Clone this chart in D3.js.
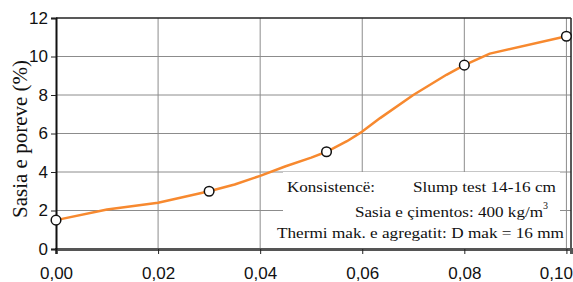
<!DOCTYPE html>
<html>
<head>
<meta charset="utf-8">
<script src="https://cdn.jsdelivr.net/npm/d3@7"></script>
<style>
  body { margin: 0; background: #fff; }
  svg { display: block; }
</style>
</head>
<body>
<script>
// line values
var lineX = [0, 0.01, 0.02, 0.025, 0.03, 0.035, 0.04, 0.045, 0.05, 0.053, 0.057, 0.06, 0.0635, 0.07, 0.0765, 0.08, 0.085, 0.10];
var lineY = [1.5, 2.05, 2.4, 2.7, 3.0, 3.35, 3.8, 4.3, 4.75, 5.05, 5.6, 6.1, 6.8, 8.0, 9.05, 9.55, 10.15, 11.05];
// measured points (circles)
var markX = [0, 0.03, 0.053, 0.08, 0.10];
var markY = [1.5, 3.0, 5.05, 9.55, 11.05];
var xTicks = [0, 0.02, 0.04, 0.06, 0.08, 0.10];
var yTicks = [0, 2, 4, 6, 8, 10, 12];
var notes = ["Konsistencë:", "Slump test 14-16 cm", "Sasia e çimentos: 400 kg/m", "Thermi mak. e agregatit:  D mak = 16 mm"];

var w = 573, h = 282;
var pl = 56, pr = 571, pt = 18, pb = 249;
var SERIF = "'Liberation Serif', 'Times New Roman', serif";
var SANS = "'Liberation Sans', Arial, sans-serif";

var svg = d3.select("body").append("svg").attr("width", w).attr("height", h);

var x = d3.scaleLinear().domain([0, 0.1009]).range([pl, pr]);
var y = d3.scaleLinear().domain([0, 12]).range([pb, pt]);
var fmt = function(d){ return d3.format(".2f")(d).replace(".", ","); };

// grid
svg.append("g").selectAll("line").data(yTicks.slice(1, 6)).enter().append("line")
  .attr("x1", pl).attr("x2", pr).attr("y1", function(d){ return y(d); }).attr("y2", function(d){ return y(d); })
  .attr("stroke", "#8c8c8c").attr("stroke-width", 1);
svg.append("g").selectAll("line").data(xTicks.slice(1)).enter().append("line")
  .attr("y1", pt).attr("y2", pb).attr("x1", function(d){ return x(d); }).attr("x2", function(d){ return x(d); })
  .attr("stroke", "#8c8c8c").attr("stroke-width", 1);

// white box behind the notes
svg.append("rect").attr("x", 283).attr("y", 172).attr("width", 277).attr("height", pb - 172)
  .attr("fill", "#fff");

// frame
svg.append("line").attr("x1", pl).attr("x2", pr).attr("y1", pt).attr("y2", pt)
  .attr("stroke", "#222").attr("stroke-width", 1.5);
svg.append("line").attr("x1", pr).attr("x2", pr).attr("y1", pt).attr("y2", pb)
  .attr("stroke", "#222").attr("stroke-width", 1.5);

// axes
var xAxis = svg.append("g").attr("transform", "translate(0," + pb + ")")
  .call(d3.axisBottom(x).tickValues(xTicks).tickFormat(fmt).tickSize(5).tickPadding(13));
var yAxis = svg.append("g").attr("transform", "translate(" + pl + ",0)")
  .call(d3.axisLeft(y).tickValues(yTicks).tickSize(5).tickPadding(3));
xAxis.select(".domain").attr("stroke", "#555").attr("stroke-width", 3);
yAxis.select(".domain").attr("stroke", "#111").attr("stroke-width", 2);
svg.selectAll(".tick line").attr("stroke", "#222");
svg.selectAll(".tick text").style("font-family", SANS).style("font-size", "17px").attr("fill", "#111");
xAxis.selectAll(".tick text").filter(function(d){ return d === 0.10; })
  .attr("text-anchor", "end").attr("dx", 6);

// y title
svg.append("text").attr("transform", "translate(27,139) rotate(-90)")
  .attr("text-anchor", "middle").style("font-family", SERIF).style("font-size", "21px")
  .attr("fill", "#111").text("Sasia e poreve (%)");

// curve
var pts = lineX.map(function(d, i){ return [d, lineY[i]]; });
svg.append("path").datum(pts)
  .attr("d", d3.line().x(function(d){ return x(d[0]); }).y(function(d){ return y(d[1]); }))
  .attr("fill", "none").attr("stroke", "#f7892f").attr("stroke-width", 2.5).attr("stroke-linejoin", "round");

// markers
svg.append("g").selectAll("circle").data(markX).enter().append("circle")
  .attr("cx", function(d){ return x(d); }).attr("cy", function(d, i){ return y(markY[i]); })
  .attr("r", 4.8).attr("fill", "#fff").attr("stroke", "#111").attr("stroke-width", 1.5);

// notes (text in the reference is drawn wide, so widths are fixed)
function note(str, x0, y0, len) {
  svg.append("text").attr("x", x0).attr("y", y0)
    .style("font-family", SERIF).style("font-size", "15px").attr("fill", "#111")
    .attr("textLength", len).attr("lengthAdjust", "spacingAndGlyphs").text(str);
}
note(notes[0], 287, 192, 88);
note(notes[1], 413, 192, 143);
note(notes[2], 355, 217, 188);
svg.append("text").attr("x", 543).attr("y", 209).style("font-family", SERIF)
  .style("font-size", "10px").attr("fill", "#111").text("3");
note(notes[3], 277, 238, 287);
</script>
</body>
</html>
